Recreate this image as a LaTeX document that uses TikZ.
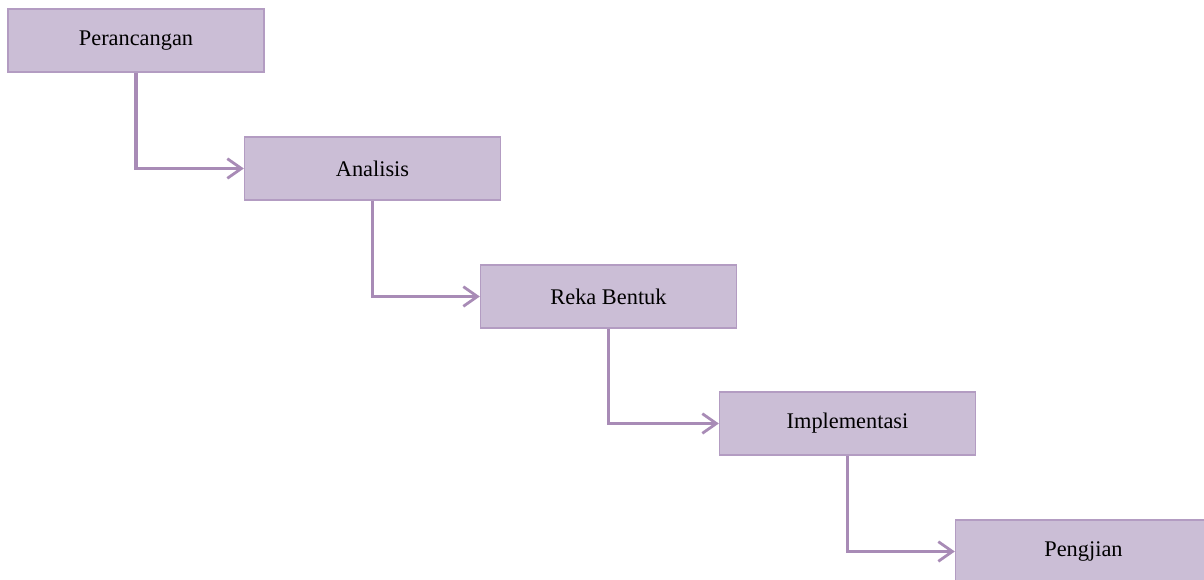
\documentclass[tikz,border=0pt]{standalone}
\usepackage{fontspec}
\setmainfont{Liberation Serif}
\usetikzlibrary{arrows.meta}
\definecolor{stepfill}{HTML}{CBBED6}
\definecolor{stepline}{HTML}{B39CC2}
\definecolor{flowline}{HTML}{A88BB6}
\begin{document}
\begin{tikzpicture}[x=0.025cm,y=-0.025cm]
        \tikzstyle{phase}=[rectangle,draw=stepline,line width=0.9pt,fill=stepfill,minimum width=6.4cm,minimum height=1.575cm,font=\fontsize{15.9}{18}\selectfont]
        \tikzstyle{edge}=[draw=flowline,line width=2.7pt,-{Straight Barb[length=10pt,width=14pt,line width=2pt]}]
        \clip (0,0) rectangle (1204,579);
        \useasboundingbox (0,0) rectangle (1204,579);
        \node [phase] (p1) at (136,40.5) {Perancangan};
        \node [phase] (p2) at (372.5,168.5) {Analisis};
        \node [phase] (p3) at (608.5,296.5) {Reka Bentuk};
        \node [phase] (p4) at (847.5,423.5) {Implementasi};
        \node [phase] (p5) at (1083.5,551.5) {Pengjian};
        \path[edge] (p1.south) |- (p2.west);
        \path[edge] (p2.south) |- (p3.west);
        \path[edge] (p3.south) |- (p4.west);
        \path[edge] (p4.south) |- (p5.west);
\end{tikzpicture}
\end{document}
